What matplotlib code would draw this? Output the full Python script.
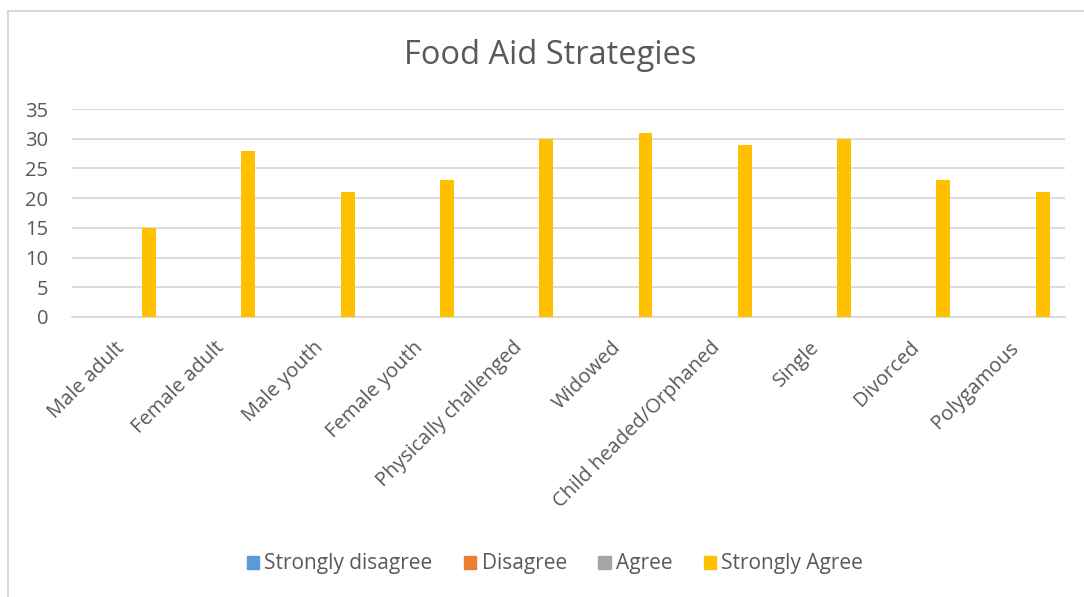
import matplotlib.pyplot as plt
import matplotlib.patches as mpatches
import matplotlib.transforms as mtransforms
import numpy as np

categories = ["Male adult", "Female adult", "Male youth", "Female youth",
              "Physically challenged", "Widowed", "Child headed/Orphaned",
              "Single", "Divorced", "Polygamous"]
series_names = ["Strongly disagree", "Disagree", "Agree", "Strongly Agree"]
strongly_disagree = [0, 0, 0, 0, 0, 0, 0, 0, 0, 0]
disagree = [0, 0, 0, 0, 0, 0, 0, 0, 0, 0]
agree = [0, 0, 0, 0, 0, 0, 0, 0, 0, 0]
strongly_agree = [15, 28, 21, 23, 30, 31, 29, 30, 23, 21]
colors = ["#5b9bd5", "#ed7d31", "#a5a5a5", "#ffc000"]

plt.rcParams["font.family"] = ["Open Sans", "DejaVu Sans"]
text_color = "#595959"
grid_color = "#d9d9d9"

fig = plt.figure(figsize=(10.84, 5.97), dpi=100)
ax = fig.add_axes([72 / 1084, 1 - 317 / 597, (1065 - 72) / 1084, (317 - 109) / 597])

x = np.arange(len(categories))
offsets = [-0.275, -0.0917, 0.0917, 0.275]
handles = []
for name, vals, off, col in zip(series_names, [strongly_disagree, disagree, agree, strongly_agree], offsets, colors):
    ax.bar(x + off, vals, width=0.14, color=col, zorder=3)
    handles.append(mpatches.Patch(color=col, label=name))

ax.set_xlim(-0.5, len(categories) - 0.5)
ax.set_ylim(0, 35)
ax.set_yticks(range(0, 36, 5))
ax.yaxis.grid(True, color=grid_color, linewidth=1.3, zorder=0)
ax.set_axisbelow(True)
for side in ("top", "right", "left"):
    ax.spines[side].set_visible(False)
ax.spines["bottom"].set_color(grid_color)
ax.spines["bottom"].set_linewidth(1.3)
ax.tick_params(length=0, labelsize=14.5, colors=text_color)
ax.tick_params(axis="y", pad=17)
ax.set_xticks(x)
ax.set_xticklabels(categories, rotation=45, ha="right", rotation_mode="anchor")
ax.tick_params(axis="x", pad=15)
shift = mtransforms.ScaledTranslation(-0.07, 0, fig.dpi_scale_trans)
for lbl in ax.get_xticklabels():
    lbl.set_transform(lbl.get_transform() + shift)

fig.text(0.508, 1 - 55 / 597, "Food Aid Strategies", ha="center", va="center",
         fontsize=23.5, color=text_color)

fig.legend(handles=handles, loc="center", bbox_to_anchor=(0.512, 1 - 564 / 597),
           ncol=4, frameon=False, fontsize=15, labelcolor=text_color,
           handlelength=0.6, handleheight=0.6, handletextpad=0.25, columnspacing=1.5)

border = mpatches.Rectangle((8 / 1084, -0.1), 1.2, 1.1 - 11 / 597, transform=fig.transFigure,
                            fill=False, edgecolor=grid_color, linewidth=1.5)
fig.patches.append(border)

fig.savefig("out.png", dpi=100)
